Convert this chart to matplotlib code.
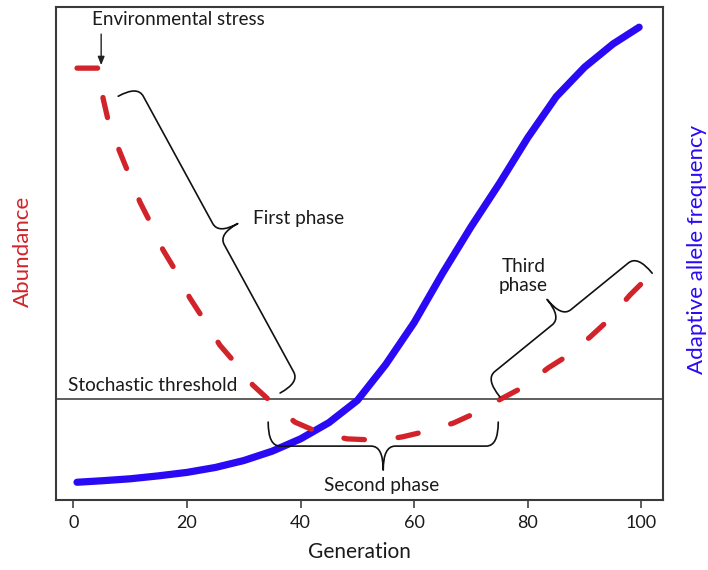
import numpy as np
import matplotlib
matplotlib.use("Agg")
import matplotlib.pyplot as plt
from matplotlib.path import Path
from matplotlib.patches import PathPatch

plt.rcParams['font.family'] = ['Lato', 'DejaVu Sans']

# ---- data ----
gen_abund = [0.65, 5.05, 5.23, 6.11, 8.05, 9.63, 11.74, 13.5, 15.8, 17.9, 20.5, 22.8,
             25.8, 28.5, 31.6, 35.0, 39.0, 42.2, 45.3, 48.2, 52.2, 55.0, 57.9, 61.6,
             66.9, 70.7, 75.6, 79.2, 83.6, 86.9, 91.0, 94.2, 98.0, 100.1]
abundance = [87.6, 87.6, 81.5, 77.1, 71.0, 66.5, 60.4, 56.4, 50.7, 46.7, 41.0, 36.9,
             31.4, 27.8, 23.3, 19.7, 15.8, 14.2, 13.1, 12.4, 12.2, 12.3, 12.8, 13.8,
             15.6, 17.6, 20.7, 22.9, 26.8, 29.2, 33.1, 36.5, 41.6, 44.0]

gen_freq = [0.65, 5, 10, 15, 20, 25, 30, 35, 40, 45, 50, 55, 60, 65, 70, 75, 80,
            85, 90, 95, 99.6]
allele_freq = [3.6, 3.9, 4.3, 4.9, 5.6, 6.6, 8.0, 9.9, 12.4, 15.7, 20.2, 27.5,
               36.0, 46.0, 55.4, 64.2, 73.5, 81.8, 87.8, 92.5, 95.9]

threshold = 20.5
xticks = [0, 20, 40, 60, 80, 100]

RED = '#d2232a'
BLUE = '#2a0af5'
TXT = '#1a1a1a'

fig = plt.figure(figsize=(7.08, 5.70), dpi=100)
ax = fig.add_axes([56/708, 70/570, (663-56)/708, (500-7)/570])
ax.set_xlim(-3.05, 103.8)
ax.set_ylim(0, 100)

ax.plot(gen_freq, allele_freq, color=BLUE, lw=5.2, solid_capstyle='round',
        solid_joinstyle='round', zorder=3)
ax.plot(gen_abund, abundance, color=RED, lw=3.8, linestyle=(0, (3.9, 6.4)),
        dash_capstyle='round', dash_joinstyle='round', zorder=4)
ax.axhline(threshold, color='#333333', lw=1.1, zorder=2)

for s in ax.spines.values():
    s.set_color('#3a3a3a')
    s.set_linewidth(1.5)

ax.set_xticks(xticks)
ax.set_xticklabels([str(t) for t in xticks])
ax.set_yticks([])
ax.tick_params(axis='x', direction='out', length=5.8, width=1.1, color='#333333',
               labelsize=13, labelcolor=TXT, pad=5)
ax.set_xlabel('Generation', fontsize=15, color=TXT, labelpad=8)

fig.text(23/708, 1 - 251/570, 'Abundance', rotation=90, color=RED, fontsize=16,
         ha='center', va='center')
fig.text(697/708, 1 - 249/570, 'Adaptive allele frequency', rotation=90, color=BLUE,
         fontsize=16, ha='center', va='center')


def brace(p1, p2, w, r, side):
    T = ax.transData
    a = T.transform(p1)
    b = T.transform(p2)
    d = b - a
    L = np.hypot(*d)
    u = d / L
    n = side * np.array([-u[1], u[0]])
    m = (a + b) / 2
    verts = [a, a + n * w, a + n * w + u * r,
             m - u * r + n * w,
             m + n * w, m + n * 2 * w,
             m + n * w, m + u * r + n * w,
             b - u * r + n * w,
             b + n * w, b]
    codes = [Path.MOVETO, Path.CURVE3, Path.CURVE3, Path.LINETO,
             Path.CURVE3, Path.CURVE3, Path.CURVE3, Path.CURVE3,
             Path.LINETO, Path.CURVE3, Path.CURVE3]
    vd = T.inverted().transform(np.array(verts))
    ax.add_patch(PathPatch(Path(vd, codes), fill=False, edgecolor='#111111',
                           lw=1.2, capstyle='round', joinstyle='round', zorder=5))


brace((7.9, 81.9), (36.4, 21.7), 22, 12, 1)
brace((34.3, 15.8), (74.8, 15.8), 24, 12, -1)
brace((75.1, 20.9), (101.9, 46.0), 23, 12, 1)

ax.annotate('', xy=(4.9, 88.2), xytext=(4.9, 94.5),
            arrowprops=dict(arrowstyle='-|>,head_length=0.5,head_width=0.2',
                            color='#222222', lw=1.0, shrinkA=0, shrinkB=0))
ax.text(3.3, 97.4, 'Environmental stress', fontsize=13.5, color=TXT, ha='left', va='center')
ax.text(31.6, 57.2, 'First phase', fontsize=13.7, color=TXT, ha='left', va='center')
ax.text(-0.93, 23.3, 'Stochastic threshold', fontsize=13.7, color=TXT, ha='left', va='center')
ax.text(54.3, 3.0, 'Second phase', fontsize=13.7, color=TXT, ha='center', va='center')
ax.text(79.2, 45.5, 'Third\nphase', fontsize=13.7, color=TXT, ha='center', va='center',
        linespacing=1.15)

fig.savefig('out.png', dpi=100)
